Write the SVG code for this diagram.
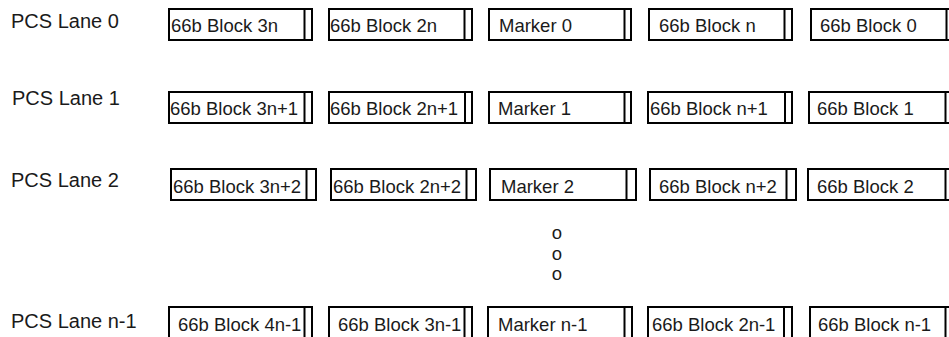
<svg xmlns="http://www.w3.org/2000/svg" width="949" height="337" viewBox="0 0 949 337">
<style>
.box{fill:#fff;stroke:#000;stroke-width:2}
.div{stroke:#000;stroke-width:2}
.t{font-family:"Liberation Sans",Arial,sans-serif;font-size:18.5px;fill:#1a1a1a}
.lbl{font-family:"Liberation Sans",Arial,sans-serif;font-size:20px;fill:#1a1a1a}
</style>
<rect width="949" height="337" fill="#fff"/>
<g id="labels">
<text class="lbl" x="11" y="28">PCS Lane 0</text>
<text class="lbl" x="12" y="105">PCS Lane 1</text>
<text class="lbl" x="11" y="187">PCS Lane 2</text>
<text class="lbl" x="11" y="328">PCS Lane n-1</text>
</g>
<g id="lane0">
<g id="l0b3n"><rect class="box" x="169" y="9" width="143" height="31"/><line class="div" x1="304.5" y1="9" x2="304.5" y2="40"/><text class="t" x="171" y="32">66b Block 3n</text></g>
<g id="l0b2n"><rect class="box" x="329" y="9" width="143" height="31"/><line class="div" x1="464.5" y1="9" x2="464.5" y2="40"/><text class="t" x="330" y="32">66b Block 2n</text></g>
<g id="l0m"><rect class="box" x="489" y="9" width="142" height="31"/><line class="div" x1="624.5" y1="9" x2="624.5" y2="40"/><text class="t" x="499" y="32">Marker 0</text></g>
<g id="l0bn"><rect class="box" x="649" y="9" width="143" height="31"/><line class="div" x1="784.5" y1="9" x2="784.5" y2="40"/><text class="t" x="659" y="32">66b Block n</text></g>
<g id="l0b0"><rect class="box" x="811" y="9" width="145" height="31"/><line class="div" x1="946.5" y1="9" x2="946.5" y2="40"/><text class="t" x="820" y="32">66b Block 0</text></g>
</g>
<g id="lane1">
<g id="l1b3n1"><rect class="box" x="169" y="92" width="143" height="31"/><line class="div" x1="304.5" y1="92" x2="304.5" y2="123"/><text class="t" x="170" y="115">66b Block 3n+1</text></g>
<g id="l1b2n1"><rect class="box" x="329" y="92" width="143" height="31"/><line class="div" x1="465" y1="92" x2="465" y2="123"/><text class="t" x="330" y="115">66b Block 2n+1</text></g>
<g id="l1m"><rect class="box" x="489" y="92" width="142" height="31"/><line class="div" x1="624.5" y1="92" x2="624.5" y2="123"/><text class="t" x="498" y="115">Marker 1</text></g>
<g id="l1bn1"><rect class="box" x="648" y="92" width="144" height="31"/><line class="div" x1="785" y1="92" x2="785" y2="123"/><text class="t" x="650" y="115">66b Block n+1</text></g>
<g id="l1b1"><rect class="box" x="809" y="92" width="147" height="31"/><line class="div" x1="945.5" y1="92" x2="945.5" y2="123"/><text class="t" x="817" y="115">66b Block 1</text></g>
</g>
<g id="lane2">
<g id="l2b3n2"><rect class="box" x="171" y="169" width="145" height="31"/><line class="div" x1="306.5" y1="169" x2="306.5" y2="200"/><text class="t" x="173" y="193">66b Block 3n+2</text></g>
<g id="l2b2n2"><rect class="box" x="331" y="169" width="145" height="31"/><line class="div" x1="466.5" y1="169" x2="466.5" y2="200"/><text class="t" x="333" y="193">66b Block 2n+2</text></g>
<g id="l2m"><rect class="box" x="490" y="169" width="146" height="31"/><line class="div" x1="626.5" y1="169" x2="626.5" y2="200"/><text class="t" x="501" y="193">Marker 2</text></g>
<g id="l2bn2"><rect class="box" x="650" y="169" width="146" height="31"/><line class="div" x1="786.5" y1="169" x2="786.5" y2="200"/><text class="t" x="659" y="193">66b Block n+2</text></g>
<g id="l2b2"><rect class="box" x="808" y="169" width="148" height="31"/><line class="div" x1="945.5" y1="169" x2="945.5" y2="200"/><text class="t" x="817" y="193">66b Block 2</text></g>
</g>
<g id="ellipsis">
<text class="t" x="557" y="239" text-anchor="middle">o</text>
<text class="t" x="557" y="260" text-anchor="middle">o</text>
<text class="t" x="557" y="280" text-anchor="middle">o</text>
</g>
<g id="laneN">
<g id="lNb4n"><rect class="box" x="169" y="307" width="143" height="40"/><line class="div" x1="304.5" y1="307" x2="304.5" y2="347"/><text class="t" x="178" y="331">66b Block 4n-1</text></g>
<g id="lNb3n"><rect class="box" x="329" y="307" width="143" height="40"/><line class="div" x1="464.5" y1="307" x2="464.5" y2="347"/><text class="t" x="338" y="331">66b Block 3n-1</text></g>
<g id="lNm"><rect class="box" x="488" y="307" width="144" height="40"/><line class="div" x1="624.5" y1="307" x2="624.5" y2="347"/><text class="t" x="498" y="331">Marker n-1</text></g>
<g id="lNb2n"><rect class="box" x="648" y="307" width="144" height="40"/><line class="div" x1="784" y1="307" x2="784" y2="347"/><text class="t" x="652" y="331">66b Block 2n-1</text></g>
<g id="lNbn"><rect class="box" x="810" y="307" width="146" height="40"/><line class="div" x1="945.5" y1="307" x2="945.5" y2="347"/><text class="t" x="818" y="331">66b Block n-1</text></g>
</g>
</svg>
